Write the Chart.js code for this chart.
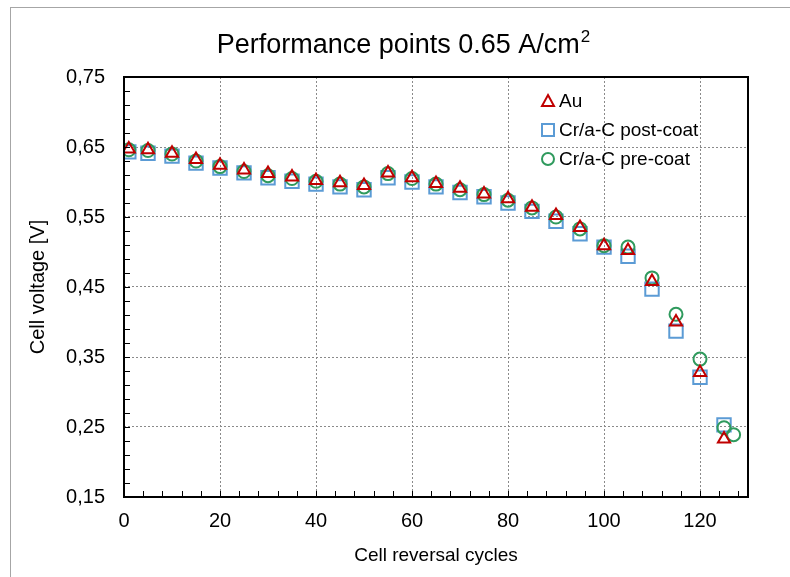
<!DOCTYPE html>
<html><head><meta charset="utf-8">
<script src="https://cdn.jsdelivr.net/npm/chart.js@4/dist/chart.umd.min.js"></script>
<style>
html,body{margin:0;padding:0;background:#fff;}
#wrap{position:relative;width:790px;height:577px;overflow:hidden;background:#fff;}
#frame{position:absolute;left:10px;top:7px;width:800px;height:600px;border:1px solid #a6a6a6;box-sizing:border-box;}
canvas{position:absolute;left:0;top:0;}
</style></head>
<body><div id="wrap"><div id="frame"></div><canvas id="c" width="790" height="577"></canvas></div>
<script>
// ---- data ----
const cycles = [1,5,10,15,20,25,30,35,40,45,50,55,60,65,70,75,80,85,90,95,100,105,110,115,120,125];
const voltsAu = [0.647,0.646,0.641,0.632,0.624,0.617,0.612,0.607,0.602,0.599,0.595,0.613,0.606,0.598,0.591,0.583,0.576,0.564,0.552,0.535,0.509,0.502,0.458,0.400,0.328,0.233];
const voltsPost = [0.643,0.641,0.637,0.627,0.620,0.613,0.606,0.601,0.597,0.593,0.589,0.606,0.600,0.593,0.585,0.579,0.570,0.558,0.544,0.526,0.507,0.494,0.447,0.387,0.321,0.253];
const cyclesPre = [1,5,10,15,20,25,30,35,40,45,50,55,60,65,70,75,80,85,90,95,100,105,110,115,120,125,127];
const voltsPre = [0.646,0.645,0.640,0.630,0.622,0.615,0.609,0.605,0.601,0.597,0.593,0.612,0.605,0.597,0.589,0.582,0.574,0.563,0.550,0.533,0.509,0.507,0.463,0.411,0.347,0.249,0.239];
const seriesNames = ['Au','Cr/a-C post-coat','Cr/a-C pre-coat'];
const xTicks = [0,20,40,60,80,100,120];
const xTickLabels = ['0','20','40','60','80','100','120'];
const yTicks = [0.15,0.25,0.35,0.45,0.55,0.65,0.75];
const yTickLabels = ['0,15','0,25','0,35','0,45','0,55','0,65','0,75'];
const titleText = 'Performance points 0.65 A/cm';
const titleSup = '2';
const xTitle = 'Cell reversal cycles';
const yTitle = 'Cell voltage [V]';

const FONT = '"Liberation Sans", Arial, sans-serif';
const RED = '#c00000', BLUE = '#5b9bd5', GREEN = '#2f9a5d';

const pts = (xs, ys) => xs.map((x, i) => ({x: x, y: ys[i]}));

const framePlugin = {
  id: 'frame',
  afterDatasetsDraw(chart) {
    const {ctx, chartArea: a, scales: {x, y}} = chart;
    ctx.save();
    ctx.strokeStyle = '#000';
    ctx.lineWidth = 2;
    ctx.strokeRect(a.left, a.top, a.right - a.left, a.bottom - a.top);
    ctx.lineWidth = 1;
    ctx.beginPath();
    for (let v = 0; v <= 128; v += 4) {
      const px = Math.round(x.getPixelForValue(v)) + 0.5;
      ctx.moveTo(px, a.bottom); ctx.lineTo(px, a.bottom - 6);
    }
    for (let k = 0; k <= 30; k++) {
      const v = 0.15 + k * 0.02;
      const py = Math.round(y.getPixelForValue(v)) + 0.5;
      ctx.moveTo(a.left, py); ctx.lineTo(a.left + 6, py);
    }
    ctx.stroke();
    ctx.restore();
  },
  afterDraw(chart) {
    const {ctx, chartArea: a} = chart;
    ctx.save();
    ctx.fillStyle = '#000';
    ctx.textBaseline = 'alphabetic';
    ctx.font = '27px ' + FONT;
    const w1 = ctx.measureText(titleText).width;
    ctx.font = '17px ' + FONT;
    const w2 = ctx.measureText(titleSup).width;
    const cx = 403;
    const x0 = cx - (w1 + w2) / 2;
    ctx.font = '27px ' + FONT;
    ctx.fillText(titleText, x0, 53);
    ctx.font = '17px ' + FONT;
    ctx.fillText(titleSup, x0 + w1 + 1, 42);
    // legend
    const mx = a.right - 200, tx = a.right - 189;
    const rows = [a.top + 24, a.top + 53, a.top + 82];
    ctx.lineWidth = 2;
    ctx.font = '19px ' + FONT;
    ctx.textBaseline = 'middle';
    let yy = rows[0];
    ctx.strokeStyle = RED;
    ctx.beginPath();
    ctx.moveTo(mx, yy - 6); ctx.lineTo(mx + 6, yy + 5); ctx.lineTo(mx - 6, yy + 5); ctx.closePath(); ctx.stroke();
    yy = rows[1];
    ctx.strokeStyle = BLUE;
    ctx.strokeRect(mx - 6, yy - 6, 12, 12);
    yy = rows[2];
    ctx.strokeStyle = GREEN;
    ctx.beginPath(); ctx.arc(mx, yy, 6, 0, Math.PI * 2); ctx.stroke();
    ctx.fillStyle = '#000';
    seriesNames.forEach((n, i) => ctx.fillText(n, tx, rows[i] + 1));
    ctx.restore();
  }
};

new Chart(document.getElementById('c'), {
  type: 'scatter',
  data: {
    datasets: [
      {label: seriesNames[0], data: pts(cycles, voltsAu), order: 0, pointStyle: 'triangle', pointRadius: 7, borderColor: RED, backgroundColor: 'rgba(0,0,0,0)', borderWidth: 2},
      {label: seriesNames[1], data: pts(cycles, voltsPost), order: 2, pointStyle: 'rect', pointRadius: 9.5, borderColor: BLUE, backgroundColor: 'rgba(0,0,0,0)', borderWidth: 2},
      {label: seriesNames[2], data: pts(cyclesPre, voltsPre), order: 1, pointStyle: 'circle', pointRadius: 6.5, borderColor: GREEN, backgroundColor: 'rgba(0,0,0,0)', borderWidth: 2}
    ]
  },
  options: {
    responsive: false,
    animation: false,
    devicePixelRatio: 1,
    events: [],
    layout: {padding: {top: 77, right: 42, left: 26, bottom: 10}},
    plugins: {legend: {display: false}, tooltip: {enabled: false}, title: {display: false}},
    scales: {
      x: {
        type: 'linear', min: 0, max: 130,
        afterBuildTicks: s => { s.ticks = xTicks.map(v => ({value: v})); },
        afterFit: s => { s.height = 70; },
        ticks: {callback: (v, i) => xTickLabels[i], color: '#000', font: {family: FONT, size: 20}, padding: 12, maxRotation: 0},
        grid: {color: '#8a8a8a', lineWidth: 1, drawTicks: false},
        border: {display: false, dash: [2, 2]},
        title: {display: true, text: xTitle, color: '#000', font: {family: FONT, size: 19}, padding: 0}
      },
      y: {
        type: 'linear', min: 0.15, max: 0.75,
        afterBuildTicks: s => { s.ticks = yTicks.map(v => ({value: v})); },
        afterFit: s => { s.width = 98; },
        ticks: {callback: (v, i) => yTickLabels[i], color: '#000', font: {family: FONT, size: 20}, padding: 19},
        grid: {color: '#8a8a8a', lineWidth: 1, drawTicks: false},
        border: {display: false, dash: [2, 2]},
        title: {display: true, text: yTitle, color: '#000', font: {family: FONT, size: 20}, padding: 0}
      }
    }
  },
  plugins: [framePlugin]
});
</script>
</body></html>
